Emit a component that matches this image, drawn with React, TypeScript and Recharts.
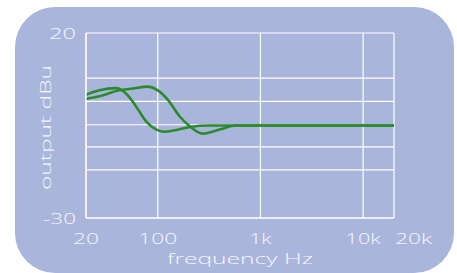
import { CartesianGrid, Line, LineChart, XAxis, YAxis } from 'recharts';

const xTicks = [20, 100, 1000, 10000, 20000];
const xTickLabels = ['20', '100', '1k', '10k', '20k'];
const yTicks = [20, 7.8, 1.5, -4.8, -10.8, -17, -30];

const freqA = [20, 27, 39, 47.5, 57, 66.5, 77, 97, 117, 146, 205, 320, 500, 20000];
const dbA = [3.3, 4.5, 5.1, 4.0, 1.5, -1.3, -3.9, -6.1, -6.7, -6.3, -5.4, -5.0, -5, -5];

const freqB = [20, 27, 42, 57, 80, 97.5, 125, 163, 205, 274, 400, 580, 20000];
const dbB = [2.2, 2.9, 4.5, 5.0, 5.5, 4.7, 2.0, -2.5, -5.2, -7.2, -6.1, -5, -5];

const curveA = freqA.map((f, i) => ({ f, db: dbA[i] }));
const curveB = freqB.map((f, i) => ({ f, db: dbB[i] }));

const textColor = '#f5f7fc';
const fontFamily = '"Open Sans", "DejaVu Sans", sans-serif';

// widths of the labels in the reference, the font there is much wider
const xLabelWidth: Record<string, number> = { '20': 26, '100': 39, '1k': 22, '10k': 35, '20k': 37 };

function XTick(props: any) {
  const { x, payload } = props;
  const i = xTicks.indexOf(payload.value);
  const label = xTickLabels[i];
  const last = payload.value === 20000;
  return (
    <text
      x={last ? x + 1 : x}
      y={238}
      textAnchor={last ? 'start' : 'middle'}
      dominantBaseline="central"
      fill={textColor}
      fontSize={15}
      fontWeight={300}
      fontFamily={fontFamily}
      textLength={xLabelWidth[label]}
      lengthAdjust="spacingAndGlyphs"
    >
      {label}
    </text>
  );
}

function YTick(props: any) {
  const { y, payload } = props;
  if (payload.value !== 20 && payload.value !== -30) return null;
  const label = String(payload.value);
  return (
    <text
      x={76}
      y={y}
      textAnchor="end"
      dominantBaseline="central"
      fill={textColor}
      fontSize={15}
      fontWeight={300}
      fontFamily={fontFamily}
      textLength={label === '20' ? 27 : 33}
      lengthAdjust="spacingAndGlyphs"
    >
      {label}
    </text>
  );
}

export default function App() {
  return (
    <div style={{ position: 'absolute', left: 0, top: 0, width: 457, height: 273 }}>
      <div
        style={{
          position: 'absolute',
          left: 15,
          top: 7,
          width: 439,
          height: 266,
          background: '#aab5dc',
          borderRadius: 40,
        }}
      />
      <div style={{ position: 'absolute', left: 0, top: 0 }}>
        <LineChart width={457} height={273} margin={{ top: 33, right: 63, bottom: 0, left: 0 }}>
          <CartesianGrid stroke="#ffffff" strokeWidth={1.2} />
          <XAxis
            dataKey="f"
            type="number"
            scale="log"
            domain={[20, 20000]}
            ticks={xTicks}
            allowDataOverflow
            height={55}
            tickLine={false}
            axisLine={{ stroke: '#ffffff', strokeWidth: 1.2 }}
            tick={<XTick />}
            interval={0}
          />
          <YAxis
            type="number"
            domain={[-30, 20]}
            ticks={yTicks}
            width={86}
            tickLine={false}
            axisLine={{ stroke: '#ffffff', strokeWidth: 1.2 }}
            tick={<YTick />}
            interval={0}
          />
          <Line
            data={curveA}
            dataKey="db"
            type="monotone"
            stroke="#2b8a2b"
            strokeWidth={2.6}
            dot={false}
            isAnimationActive={false}
          />
          <Line
            data={curveB}
            dataKey="db"
            type="monotone"
            stroke="#2b8a2b"
            strokeWidth={2.6}
            dot={false}
            isAnimationActive={false}
          />
          <text
            x={240}
            y={258}
            textAnchor="middle"
            dominantBaseline="central"
            fill={textColor}
            fontSize={15}
            fontWeight={300}
            fontFamily={fontFamily}
            textLength={146}
            lengthAdjust="spacingAndGlyphs"
          >
            frequency Hz
          </text>
          <text
            x={45}
            y={127.5}
            transform="rotate(-90 45 127.5)"
            textAnchor="middle"
            dominantBaseline="central"
            fill={textColor}
            fontSize={15}
            fontWeight={300}
            fontFamily={fontFamily}
            textLength={125}
            lengthAdjust="spacingAndGlyphs"
          >
            output dBu
          </text>
        </LineChart>
      </div>
    </div>
  );
}
